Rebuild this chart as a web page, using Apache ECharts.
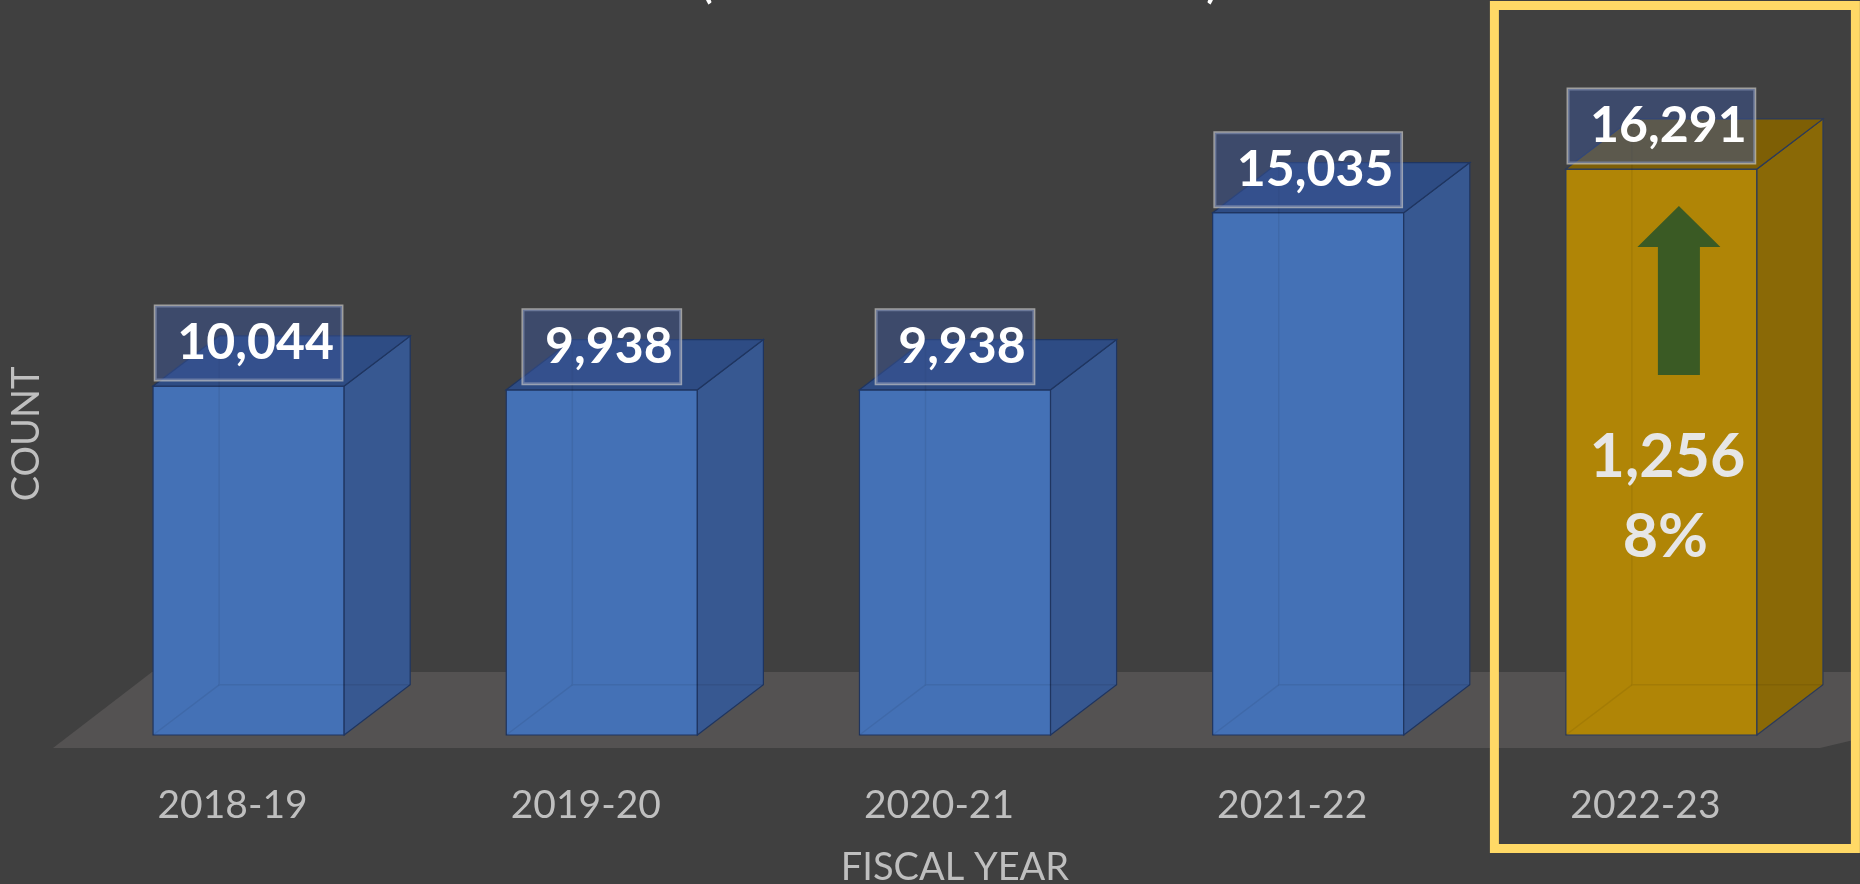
<!DOCTYPE html>
<html>
<head>
<meta charset="utf-8">
<script src="https://cdn.jsdelivr.net/npm/echarts@6/dist/echarts.min.js"></script>
<style>
html,body{margin:0;padding:0;background:#404040;}
#chart{width:1860px;height:884px;}
</style>
</head>
<body>
<div id="chart"></div>
<script>
// ---- data ----
const categories = ['2018-19', '2019-20', '2020-21', '2021-22', '2022-23'];
const counts = [10044, 9938, 9938, 15035, 16291];
const highlightIndex = 4;
const changeCount = '1,256';
const changePct = '8%';
const xAxisTitle = 'FISCAL YEAR';
const yAxisTitle = 'COUNT';

// ---- styles ----
const FONT = 'Lato, "Open Sans", sans-serif';
const blue = { front: '#4471B6', side: '#375891', top: '#2E4C84', edge: '#1F3560' };
const gold = { front: '#B08506', side: '#8A6906', top: '#7E5F05', edge: '#2B3A5A' };

const chart = echarts.init(document.getElementById('chart'), null, { renderer: 'canvas' });

function renderFloor(params, api) {
  const cs = params.coordSys;
  const yB = api.coord([0, 0])[1];
  const left = cs.x, right = cs.x + cs.width;
  return {
    type: 'polygon',
    shape: { points: [
      [left - 19, yB + 13],
      [left - 19 + 99, yB - 63],
      [right + 300, yB - 63],
      [right - 18, yB + 13]
    ] },
    style: { fill: '#545252' },
    silent: true
  };
}

function renderBar(params, api) {
  const i = params.dataIndex;
  const v = api.value(1);
  const top = api.coord([i, v]);
  const base = api.coord([i, 0]);
  const band = api.size([1, 0])[0];
  const w = band * 0.541;
  const dx = band * 0.187;
  const dy = dx * 0.76;
  const cx = top[0];
  const x0 = cx - w / 2, x1 = cx + w / 2;
  const yT = top[1], yB = base[1];
  const c = i === highlightIndex ? gold : blue;
  const faint = 'rgba(0,0,0,0.07)';
  const children = [];

  if (i === highlightIndex) {
    children.push({
      type: 'rect',
      shape: { x: cx - 167, y: 5.5, width: 361, height: 843 },
      style: { fill: 'none', stroke: '#FFD966', lineWidth: 9 },
      z2: 0
    });
  }

  // front face
  children.push({ type: 'rect', shape: { x: x0, y: yT, width: w, height: yB - yT },
    style: { fill: c.front, stroke: c.edge, lineWidth: 1.2 }, z2: 2 });
  // side face
  children.push({ type: 'polygon', shape: { points: [[x1, yT], [x1 + dx, yT - dy], [x1 + dx, yB - dy], [x1, yB]] },
    style: { fill: c.side, stroke: c.edge, lineWidth: 1.2 }, z2: 2 });
  // top face
  children.push({ type: 'polygon', shape: { points: [[x0, yT], [x0 + dx, yT - dy], [x1 + dx, yT - dy], [x1, yT]] },
    style: { fill: c.top, stroke: c.edge, lineWidth: 1.2 }, z2: 2 });
  // hidden back edges seen through the translucent box
  children.push({ type: 'polyline', shape: { points: [[x0 + dx, yT - dy], [x0 + dx, yB - dy], [x1 + dx, yB - dy]] },
    style: { fill: 'none', stroke: faint, lineWidth: 1.5 }, z2: 3 });
  children.push({ type: 'line', shape: { x1: x0, y1: yB, x2: x0 + dx, y2: yB - dy },
    style: { stroke: faint, lineWidth: 1.5 }, z2: 3 });

  // value label box
  children.push({
    type: 'text',
    x: cx, y: yT - 6,
    style: {
      text: v.toLocaleString('en-US'),
      font: 'bold 50px ' + FONT,
      fill: '#ffffff',
      align: 'center', verticalAlign: 'bottom',
      lineHeight: 50,
      backgroundColor: 'rgba(58,84,150,0.50)',
      borderColor: 'rgba(200,200,200,0.7)',
      borderWidth: 1.5,
      padding: [12, 8, 12, 22]
    },
    z2: 5
  });

  if (i === highlightIndex) {
    const ax = cx + 17.5;
    children.push({
      type: 'polygon',
      shape: { points: [
        [ax, yT + 37], [ax + 41.5, yT + 78], [ax + 21, yT + 78], [ax + 21, yT + 206],
        [ax - 21, yT + 206], [ax - 21, yT + 78], [ax - 41.5, yT + 78]
      ] },
      style: { fill: '#3A5A24' }, z2: 4
    });
    children.push({ type: 'text', x: cx + 6, y: yT + 288,
      style: { text: changeCount, font: 'bold 61px ' + FONT, fill: '#E6E6E6', align: 'center', verticalAlign: 'middle' }, z2: 4 });
    children.push({ type: 'text', x: cx + 4, y: yT + 368,
      style: { text: changePct, font: 'bold 61px ' + FONT, fill: '#E6E6E6', align: 'center', verticalAlign: 'middle' }, z2: 4 });
  }
  return { type: 'group', children };
}

const option = {
  backgroundColor: '#404040',
  animation: false,
  textStyle: { fontFamily: FONT },
  graphic: [
    { type: 'text', x: 707, y: -15, style: { text: '(', font: 'bold 40px ' + FONT, fill: '#ffffff', align: 'center', verticalAlign: 'middle' } },
    { type: 'text', x: 1212, y: -15, style: { text: ')', font: 'bold 40px ' + FONT, fill: '#ffffff', align: 'center', verticalAlign: 'middle' } }
  ],
  grid: { left: 72, right: 22, top: 133, bottom: 149, containLabel: false, outerBoundsMode: 'none' },
  xAxis: {
    type: 'category',
    data: categories,
    axisLine: { show: false },
    axisTick: { show: false },
    axisLabel: { color: '#BFBFBF', fontSize: 39, fontFamily: FONT, margin: 51, padding: [0, 32, 0, 0] },
    name: xAxisTitle,
    nameLocation: 'middle',
    nameGap: 114,
    nameTextStyle: { color: '#BFBFBF', fontSize: 38, fontFamily: FONT }
  },
  yAxis: {
    type: 'value',
    min: 0,
    max: 17330,
    axisLine: { show: false },
    axisTick: { show: false },
    axisLabel: { show: false },
    splitLine: { show: false },
    name: yAxisTitle,
    nameLocation: 'middle',
    nameRotate: 90,
    nameGap: 26,
    nameTextStyle: { color: '#BFBFBF', fontSize: 38, fontFamily: FONT }
  },
  series: [
    {
      type: 'custom',
      name: 'floor',
      renderItem: renderFloor,
      data: [[0, 0]],
      encode: { x: 0, y: 1 },
      z: 1,
      silent: true
    },
    {
      type: 'custom',
      name: 'Count',
      renderItem: renderBar,
      data: categories.map((c, i) => [i, counts[i]]),
      encode: { x: 0, y: 1 },
      z: 2,
      clip: false
    }
  ]
};
chart.setOption(option);
</script>
</body>
</html>
